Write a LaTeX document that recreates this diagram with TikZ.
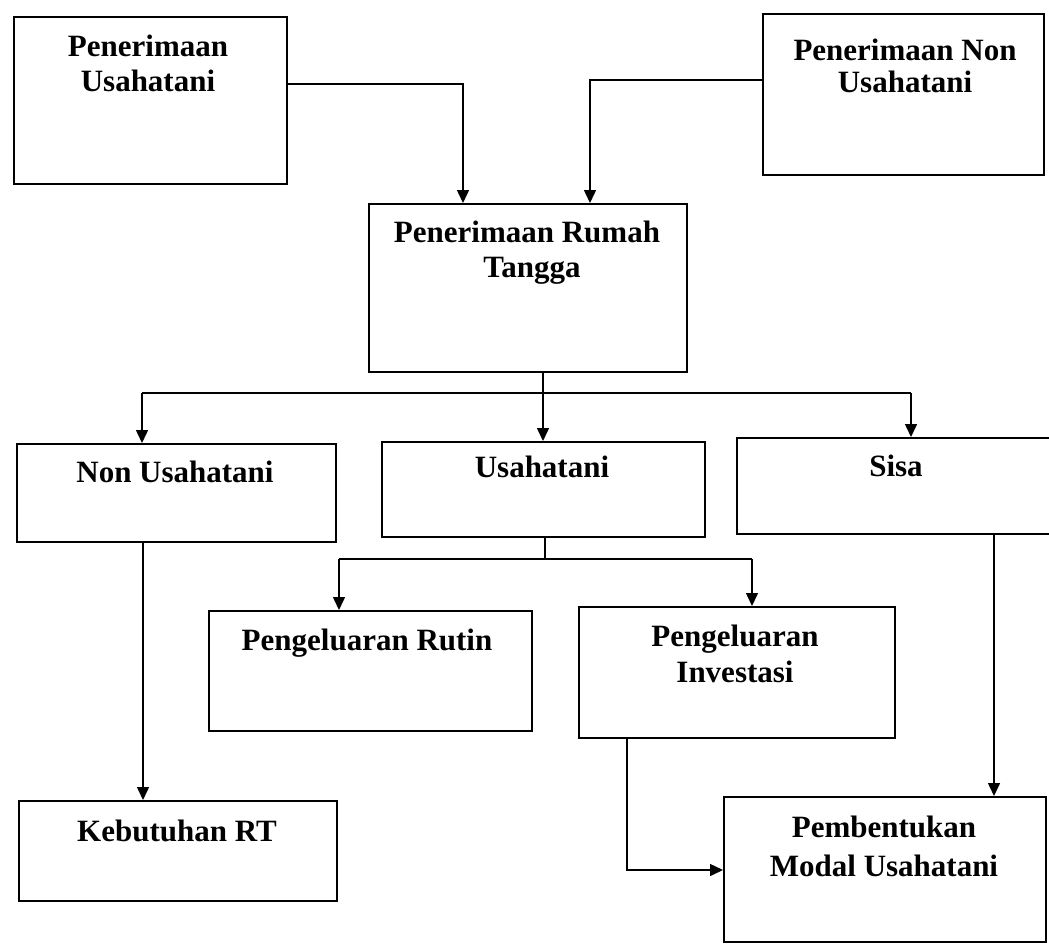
\documentclass[tikz,border=0pt]{standalone}
\usepackage{fontspec}
\setmainfont{Liberation Serif}
\usetikzlibrary{arrows.meta,calc}
\tikzset{
  box/.style={draw=black, line width=1.8pt, inner sep=0pt, anchor=north west, fill=none},
  lbl/.style={inner sep=0pt, anchor=base, font=\bfseries\fontsize{31}{36}\selectfont},
  conn/.style={draw=black, line width=1.5pt},
  arr/.style={conn, -{Triangle[length=13pt,width=12pt]}}
}
\begin{document}
\begin{tikzpicture}[x=1pt,y=-1pt]
\useasboundingbox (0,0) rectangle (1049,945);
\clip (0,0) rectangle (1049,945);
\fill[white] (0,0) rectangle (1049,945);

% boxes
\node[box, minimum width=273pt, minimum height=167pt] (b1) at (13,16) {};
\node[box, minimum width=281pt, minimum height=161pt] (b2) at (762,13) {};
\node[box, minimum width=318pt, minimum height=168pt] (b3) at (368,203) {};
\node[box, minimum width=319pt, minimum height=98pt]  (b4) at (16,443) {};
\node[box, minimum width=323pt, minimum height=95pt]  (b5) at (381,441) {};
\node[box, minimum width=322pt, minimum height=96pt]  (b6) at (736,437) {};
\node[box, minimum width=323pt, minimum height=120pt] (b7) at (208,610) {};
\node[box, minimum width=316pt, minimum height=131pt] (b8) at (578,606) {};
\node[box, minimum width=318pt, minimum height=100pt] (b9) at (18,800) {};
\node[box, minimum width=322pt, minimum height=145pt] (b10) at (723,796) {};

% labels
\node[lbl] (t1a) at (148,56) {Penerimaan};
\node[lbl] (t1b) at (148,91) {Usahatani};
\node[lbl] (t2a) at (905,60) {Penerimaan Non};
\node[lbl] (t2b) at (905,92) {Usahatani};
\node[lbl] (t3a) at (527,242) {Penerimaan Rumah};
\node[lbl] (t3b) at (532,277) {Tangga};
\node[lbl] (t4) at (175,482) {Non Usahatani};
\node[lbl] (t5) at (542,477) {Usahatani};
\node[lbl] (t6) at (896,476) {Sisa};
\node[lbl] (t7) at (367,650) {Pengeluaran Rutin};
\node[lbl] (t8a) at (735,646) {Pengeluaran};
\node[lbl] (t8b) at (735,682) {Investasi};
\node[lbl] (t9) at (177,841) {Kebutuhan RT};
\node[lbl] (t10a) at (884,837) {Pembentukan};
\node[lbl] (t10b) at (884,876) {Modal Usahatani};

% junction coordinates
\coordinate (j1) at (463,84);
\coordinate (j2) at (590,80);
\coordinate (s1) at (543,393);
\coordinate (a4) at (142,393);
\coordinate (a6) at (911,393);
\coordinate (s2) at (545,559);
\coordinate (a7) at (339,559);
\coordinate (a8) at (752,559);
\coordinate (c9) at (143,600);
\coordinate (c8) at (627,870);
\coordinate (c10) at (994,600);

% connectors
\draw[arr] (b1.east |- j1) -- (j1) -- (j1 |- b3.north);
\draw[arr] (b2.west |- j2) -- (j2) -- (j2 |- b3.north);
\draw[conn] (s1 |- b3.south) -- (s1);
\draw[conn] (a4) -- (a6);
\draw[arr] (a4) -- (a4 |- b4.north);
\draw[arr] (s1) -- (s1 |- b5.north);
\draw[arr] (a6) -- (a6 |- b6.north);
\draw[conn] (s2 |- b5.south) -- (s2);
\draw[conn] (a7) -- (a8);
\draw[arr] (a7) -- (a7 |- b7.north);
\draw[arr] (a8) -- (a8 |- b8.north);
\draw[arr] (c9 |- b4.south) -- (c9 |- b9.north);
\draw[arr] (c8 |- b8.south) -- (c8) -- (c8 -| b10.west);
\draw[arr] (c10 |- b6.south) -- (c10 |- b10.north);
\end{tikzpicture}
\end{document}
